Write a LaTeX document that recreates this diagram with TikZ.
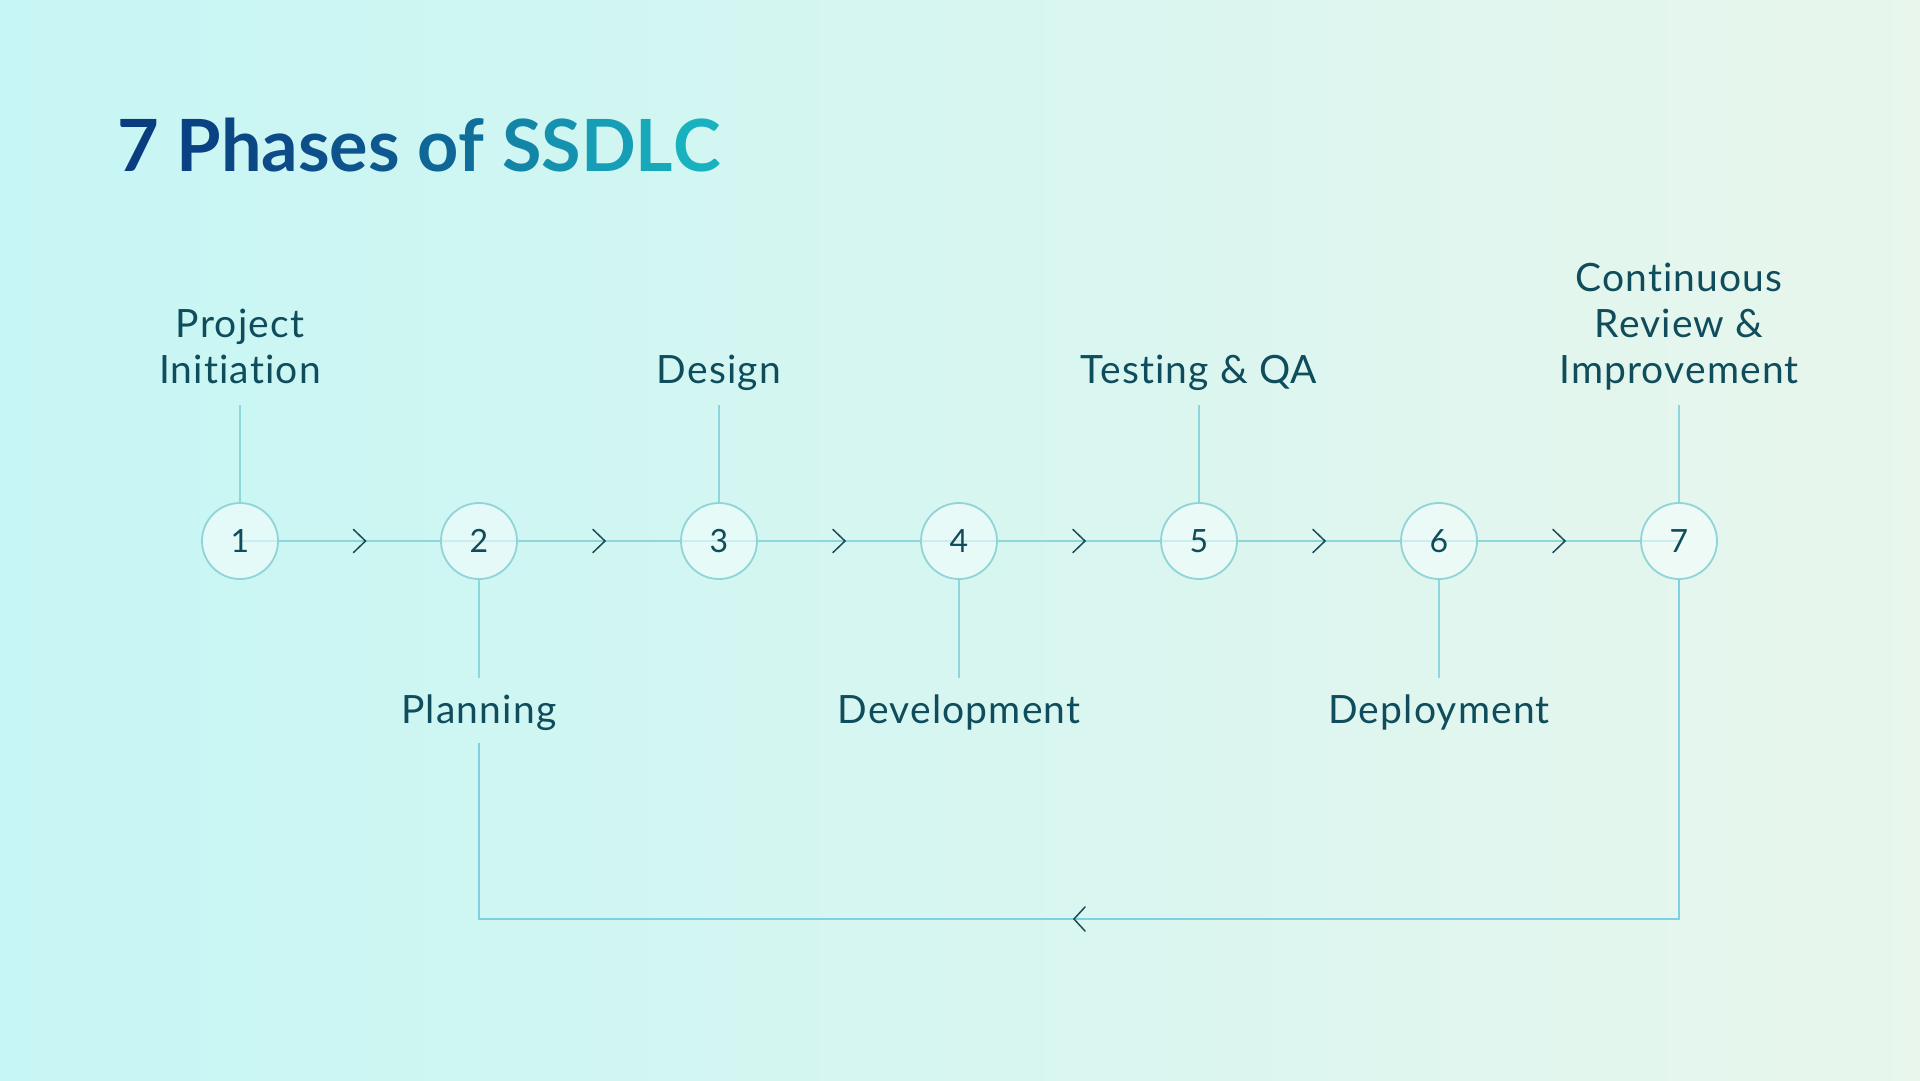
\documentclass[tikz,border=0pt]{standalone}
\usepackage{fontspec}
\setmainfont{Lato}
\usetikzlibrary{calc}
\definecolor{bgL}{HTML}{C6F6F5}
\definecolor{bgR}{HTML}{E8F6EC}
\definecolor{ink}{HTML}{0F4C5C}
\definecolor{linkc}{HTML}{8CD6DC}
\definecolor{loopc}{HTML}{80D0E4}
\definecolor{circc}{HTML}{8FD4D6}
\definecolor{circf}{HTML}{F4FDFC}
\definecolor{chevc}{HTML}{1A4B57}
\definecolor{tA}{HTML}{0A3C80}
\definecolor{tB}{HTML}{18B4C0}
\newcommand{\tl}[2]{\textcolor{tB!#1!tA}{#2}}
\tikzset{
  phase/.style={circle, minimum size=76pt, inner sep=0pt, draw=circc, line width=1.8pt, fill=circf, fill opacity=0.6, text opacity=1, text=ink, font=\fontsize{32}{38}\selectfont},
  lab/.style={align=center, text=ink, inner sep=0pt, font=\fontsize{39}{46}\selectfont\addfontfeatures{LetterSpace=3,Ligatures=NoCommon}},
  link/.style={draw=linkc, line width=1.5pt},
  loopline/.style={draw=loopc, line width=2.2pt},
  chev/.style={draw=chevc, line width=1.5pt, line cap=round, line join=miter},
}
\begin{document}
\begin{tikzpicture}[x=1pt,y=-1pt]
\useasboundingbox (0,0) rectangle (1920,1080);
\shade[left color=bgL, right color=bgR] (0,0) rectangle (1920,1080);

% title
\node[anchor=base west, inner sep=0pt, font=\fontsize{72}{80}\selectfont\bfseries] (title) at (117,171)
 {\tl{0}{7} \tl{4}{P}\tl{8}{h}\tl{12}{a}\tl{16}{s}\tl{20}{e}\tl{24}{s} \tl{36}{o}\tl{42}{f} \tl{62}{S}\tl{72}{S}\tl{82}{D}\tl{90}{L}\tl{98}{C}};

% phase positions
\foreach \i/\x in {1/240,2/479,3/719,4/959,5/1199,6/1439,7/1679}
  \coordinate (p\i) at (\x,541);

% connectors (drawn first, circles on top)
\foreach \a/\b in {1/2,2/3,3/4,4/5,5/6,6/7}{
  \draw[link] (p\a) -- (p\b);
}
\foreach \i in {1,...,7}
  \node[phase] (c\i) at (p\i) {\i};
\foreach \a/\b in {1/2,2/3,3/4,4/5,5/6,6/7}{
  \draw[chev] ($(c\a)!0.5!(c\b)$) ++(-6,-11.5) -- ++(12,11.5) -- ++(-12,11.5);
}

% labels (base = last line baseline)
\node[lab, anchor=base] (l1) at (240,383) {Project\\Initiation};
\node[lab, anchor=base] (l3) at (719,383) {Design};
\node[lab, anchor=base] (l5) at (1199,383) {Testing \& QA};
\node[lab, anchor=base] (l7) at (1679,383) {Continuous\\Review \&\\Improvement};
\node[lab, anchor=base] (l2) at (479,723) {Planning};
\node[lab, anchor=base] (l4) at (959,723) {Development};
\node[lab, anchor=base] (l6) at (1439,723) {Deployment};

% stems
\foreach \i/\x in {1/240,3/719,5/1199,7/1679}{
  \coordinate (t\i) at (\x,405);
  \draw[link] (t\i) -- (c\i.north);
}
\foreach \i/\x in {2/479,4/959,6/1439}{
  \coordinate (b\i) at (\x,678);
  \draw[link] (c\i.south) -- (b\i);
}

% feedback loop
\coordinate (lp) at (479,743);
\coordinate (lc) at (479,919);
\draw[loopline] (lp) -- (lc) -| (c7.south);
\draw[chev] ($(lc)!0.5!(lc -| c7)$) ++(6,-12) -- ++(-11,12) -- ++(11,12);
\end{tikzpicture}
\end{document}
